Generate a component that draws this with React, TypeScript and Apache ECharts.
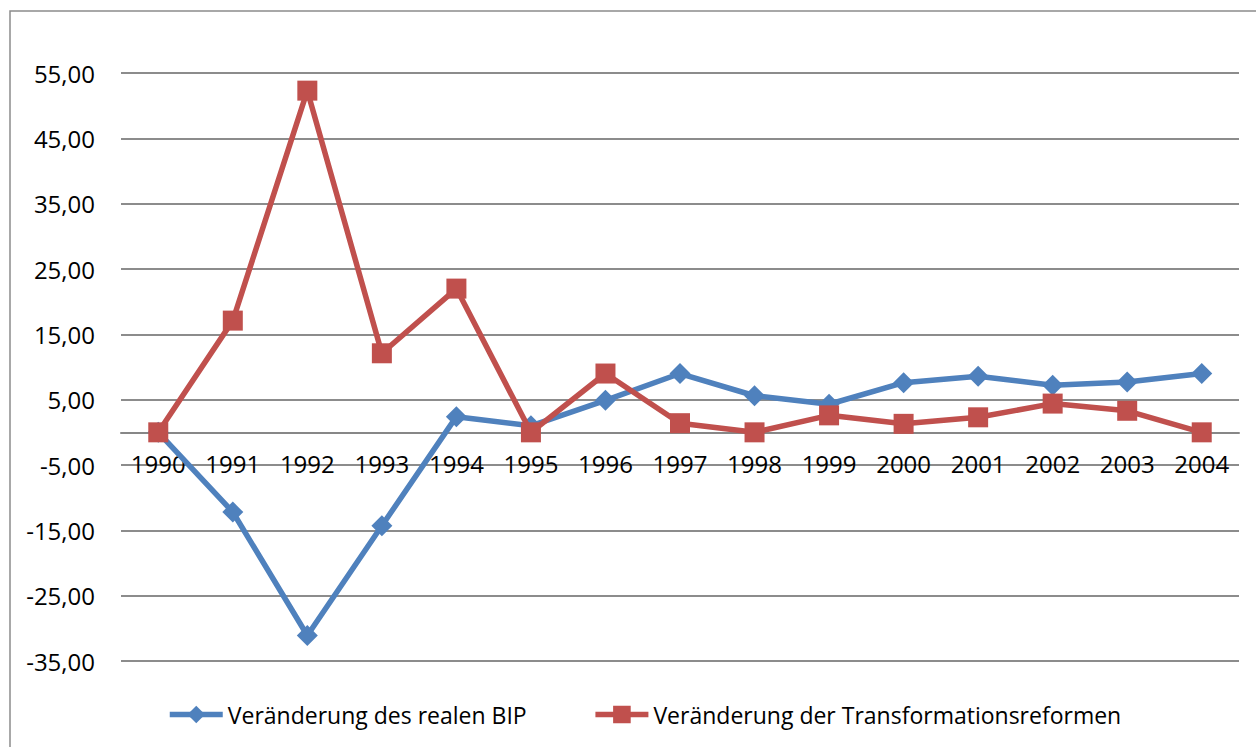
import React, { useEffect, useRef } from "react";
import * as echarts from "echarts";

const years = ["1990", "1991", "1992", "1993", "1994", "1995", "1996", "1997", "1998", "1999", "2000", "2001", "2002", "2003", "2004"];
const bipName = "Veränderung des realen BIP";
const reformName = "Veränderung der Transformationsreformen";
const bipValues = [0, -12.2, -31.1, -14.3, 2.4, 1.0, 4.9, 9.0, 5.6, 4.3, 7.6, 8.6, 7.2, 7.7, 9.0];
const reformValues = [0, 17.1, 52.3, 12.1, 22.0, 0, 9.0, 1.4, 0, 2.6, 1.3, 2.3, 4.4, 3.3, 0];
const yMin = -35;
const yMax = 55;
const yStep = 10;

const FONT = '"Open Sans", "Noto Sans", sans-serif';
const GRID_TOP = 73;
const GRID_BOTTOM = 86;
const HEIGHT = 747;

export default function App() {
  const ref = useRef<HTMLDivElement>(null);
  useEffect(() => {
    if (!ref.current) return;
    const chart = echarts.init(ref.current, null, { renderer: "svg" });
    const plotH = HEIGHT - GRID_TOP - GRID_BOTTOM;
    const zeroOffset = -((0 - yMin) / (yMax - yMin)) * plotH;
    chart.setOption({
      animation: false,
      backgroundColor: "#ffffff",
      textStyle: { fontFamily: FONT },
      grid: { left: 121, right: 17, top: GRID_TOP, bottom: GRID_BOTTOM, containLabel: false },
      graphic: [
        {
          type: "rect",
          shape: { x: 10, y: 11, width: 1270, height: 760 },
          style: { fill: "none", stroke: "#8c8c8c", lineWidth: 1.5 },
          silent: true,
        },
      ],
      legend: {
        left: 167,
        top: 703,
        padding: 0,
        itemWidth: 53,
        itemHeight: 22,
        itemGap: 66,
        lineStyle: { width: 5.5 },
        textStyle: { fontFamily: FONT, fontSize: 23, color: "#000" },
        data: [bipName, reformName],
      },
      xAxis: {
        type: "category",
        data: years,
        boundaryGap: true,
        offset: zeroOffset,
        axisLine: { onZero: false, lineStyle: { color: "#878787", width: 2 } },
        axisTick: { show: false },
        axisLabel: { color: "#000", fontSize: 24, fontFamily: FONT, margin: 19 },
        z: 1,
      },
      yAxis: {
        type: "value",
        min: yMin,
        max: yMax,
        interval: yStep,
        axisLine: { show: false },
        axisTick: { show: false },
        axisLabel: {
          color: "#000",
          fontSize: 24,
          fontFamily: FONT,
          margin: 26,
          formatter: (v: number) => v.toFixed(2).replace(".", ","),
        },
        splitLine: { lineStyle: { color: "#8c8c8c", width: 2 } },
      },
      series: [
        {
          name: bipName,
          type: "line",
          data: bipValues,
          symbol: "diamond",
          symbolSize: 21,
          lineStyle: { color: "#4F81BD", width: 5.5 },
          itemStyle: { color: "#4F81BD" },
          z: 3,
        },
        {
          name: reformName,
          type: "line",
          data: reformValues,
          symbol: "rect",
          symbolSize: 20,
          lineStyle: { color: "#C0504D", width: 5.5 },
          itemStyle: { color: "#C0504D" },
          z: 4,
        },
      ],
    });
    return () => chart.dispose();
  }, []);
  return (
    <div
      ref={ref}
      style={{ position: "fixed", left: 0, top: 0, width: 1256, height: 747, background: "#fff" }}
    />
  );
}
